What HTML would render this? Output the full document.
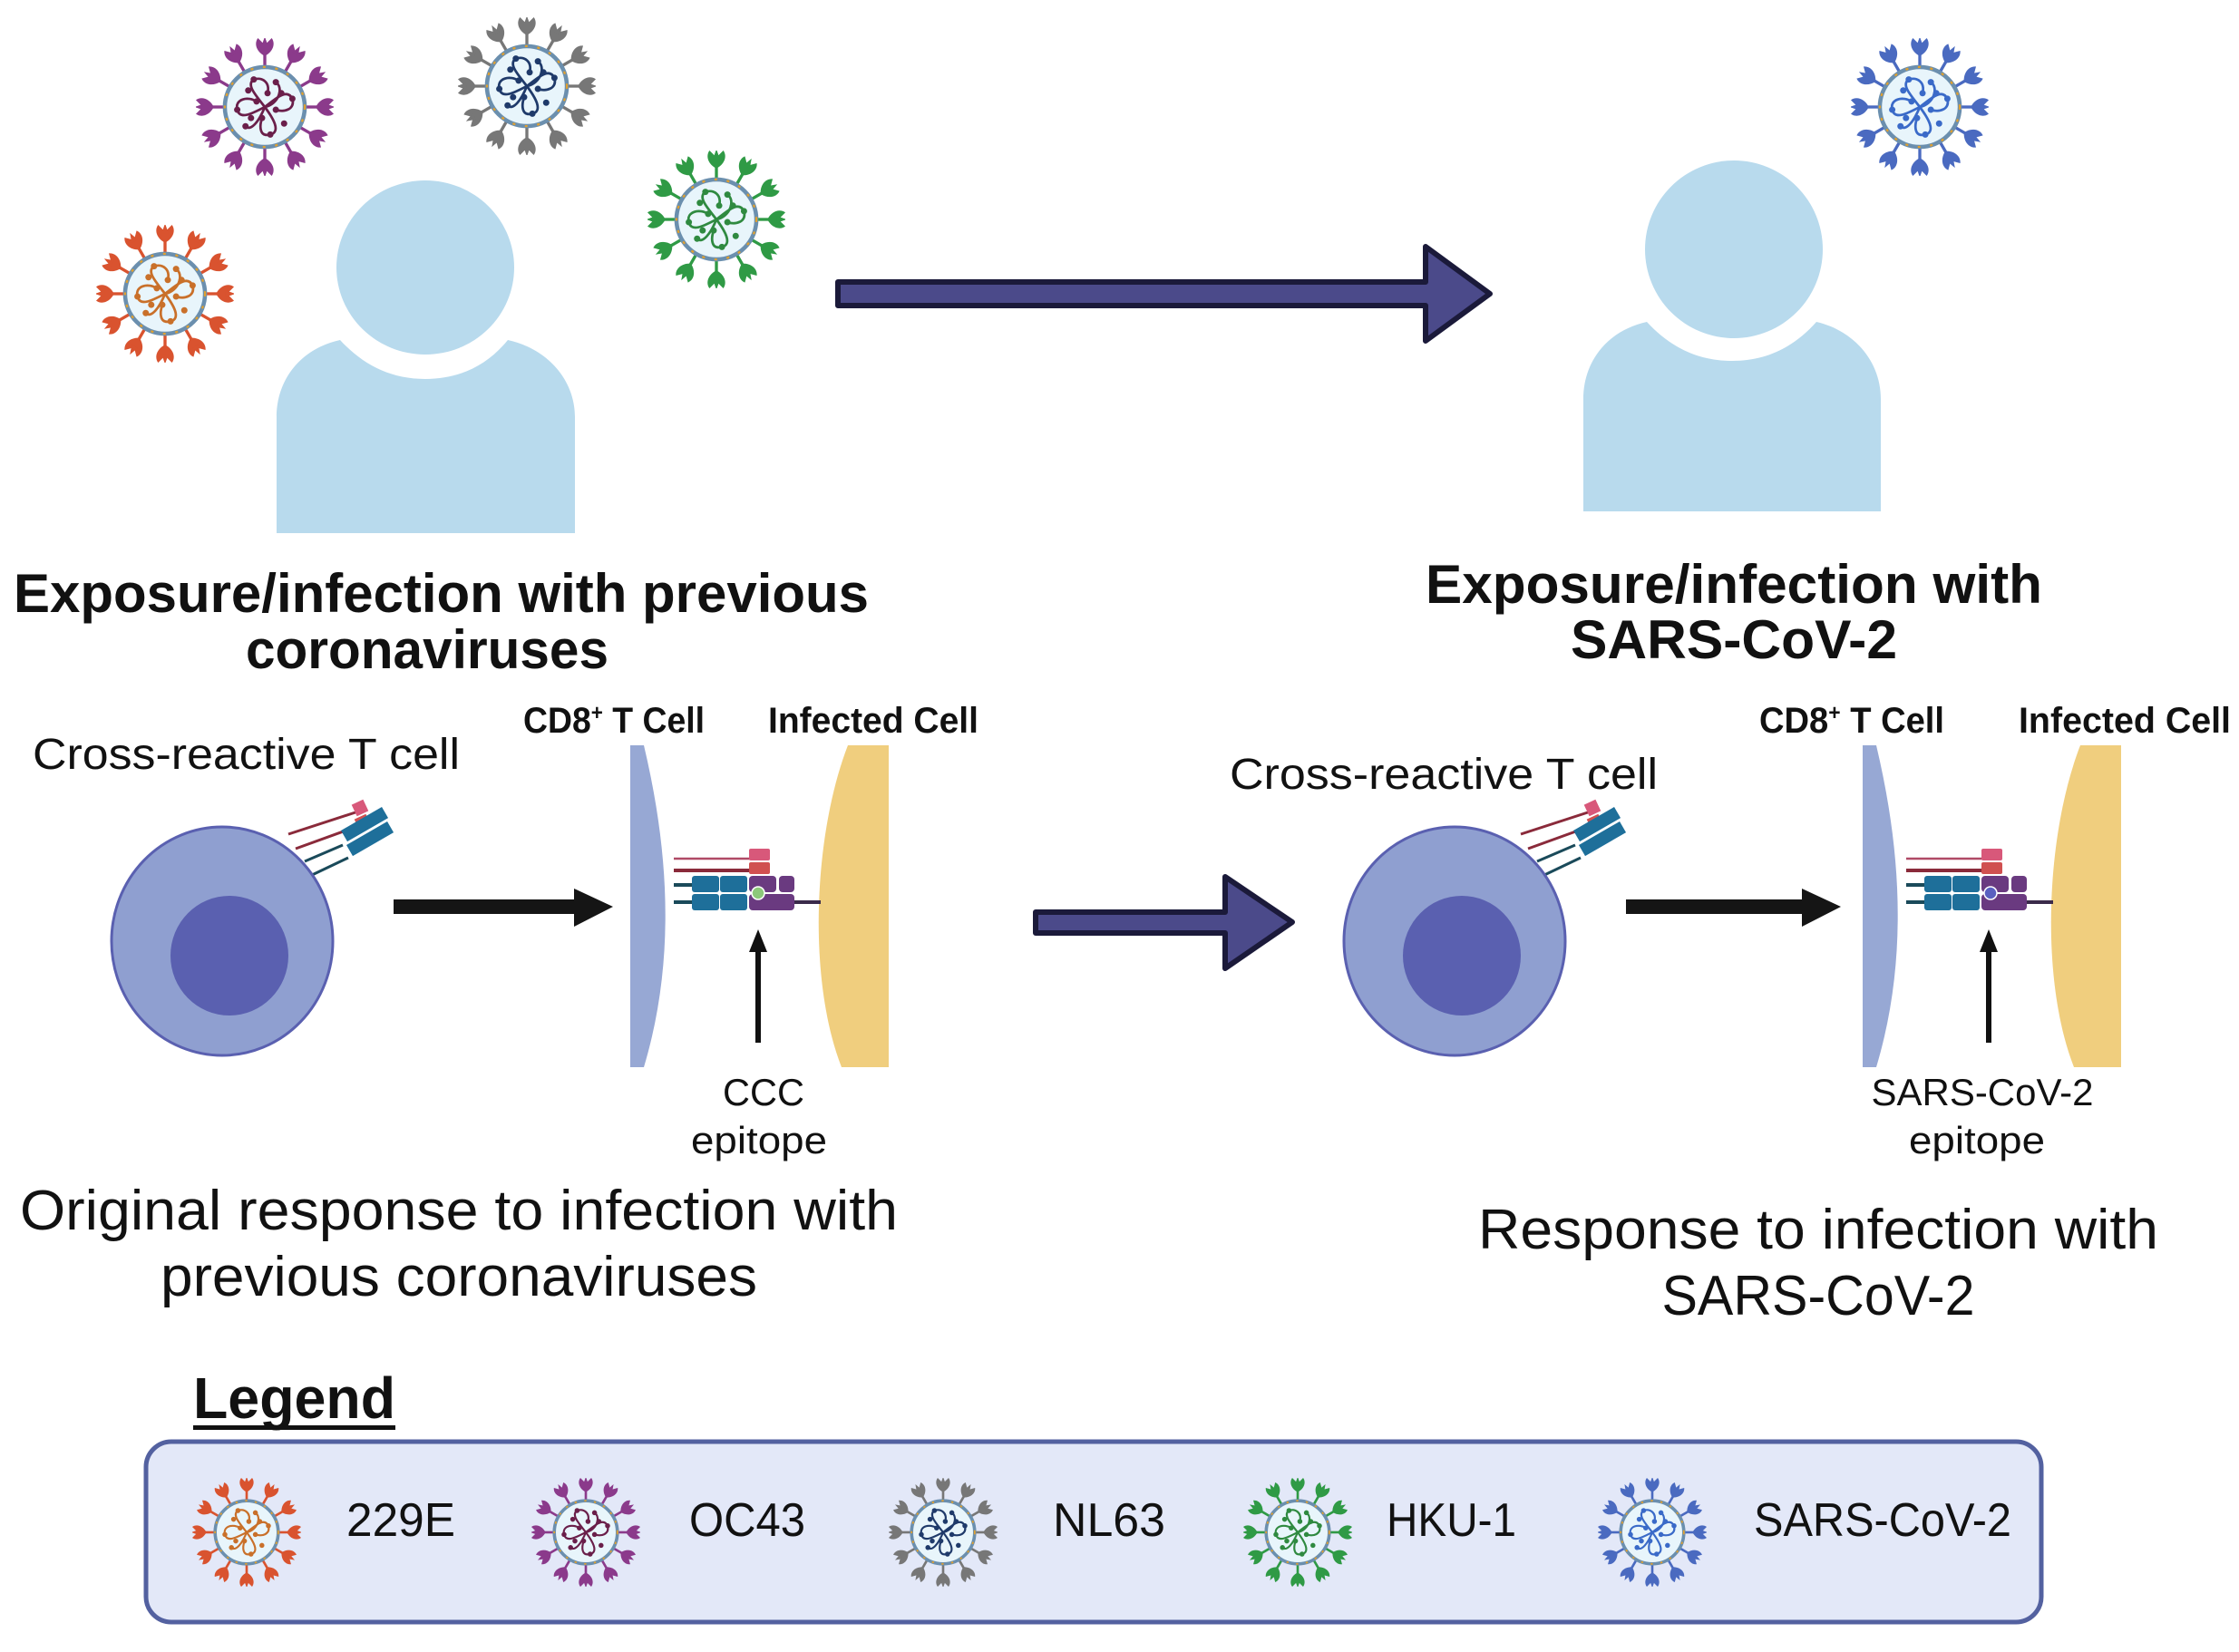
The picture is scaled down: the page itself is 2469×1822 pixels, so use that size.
<!DOCTYPE html>
<html><head><meta charset="utf-8"><style>
html,body{margin:0;padding:0;background:#fff;}
svg{display:block;}
text{font-family:"Liberation Sans Narrow","Liberation Sans",sans-serif;fill:#111;}
.b{font-weight:bold;}
</style></head><body>
<svg width="2469" height="1822" viewBox="0 0 2469 1822" xmlns="http://www.w3.org/2000/svg">
<defs>
<g id="spk">
  <line x1="0" y1="-30" x2="0" y2="-40" stroke="var(--c1)" stroke-width="2.2"/>
  <path d="M0,-37 C-6,-40 -8,-46 -5,-50 L0,-45 L5,-50 C8,-46 6,-40 0,-37Z" fill="var(--c1)"/>
  <path d="M-2.5,-44 L0,-51 L2.5,-44Z" fill="var(--c1)"/>
</g>
<symbol id="vir" viewBox="-50 -50 100 100">
  <use href="#spk"/><use href="#spk" transform="rotate(30)"/><use href="#spk" transform="rotate(60)"/>
  <use href="#spk" transform="rotate(90)"/><use href="#spk" transform="rotate(120)"/><use href="#spk" transform="rotate(150)"/>
  <use href="#spk" transform="rotate(180)"/><use href="#spk" transform="rotate(210)"/><use href="#spk" transform="rotate(240)"/>
  <use href="#spk" transform="rotate(270)"/><use href="#spk" transform="rotate(300)"/><use href="#spk" transform="rotate(330)"/>
  <circle r="29" fill="#e8f5fb" stroke="#6b8fae" stroke-width="3"/>
  <circle r="29" fill="none" stroke="#e0a030" stroke-width="1.5" stroke-dasharray="2 7"/>
  <g fill="none" stroke="var(--c2)" stroke-width="1.8">
    <path d="M0,0 C-6,-8 -14,-16 -8,-20 C-2,-22 4,-18 2,-10"/>
    <path d="M0,0 C8,-6 16,-14 20,-6 C22,2 14,4 8,2"/>
    <path d="M0,0 C6,8 12,18 4,20 C-4,22 -4,14 -2,8"/>
    <path d="M0,0 C-8,4 -18,10 -20,2 C-22,-6 -12,-8 -6,-4"/>
    <path d="M0,0 C-4,10 -10,18 -14,14"/>
    <path d="M0,0 C10,-2 14,-14 8,-18"/>
  </g>
  <g fill="var(--c2)">
    <circle cx="-8" cy="-20" r="2.3"/><circle cx="2" cy="-10" r="2.3"/><circle cx="20" cy="-6" r="2.3"/>
    <circle cx="8" cy="2" r="2.3"/><circle cx="4" cy="20" r="2.3"/><circle cx="-2" cy="8" r="2.3"/>
    <circle cx="-20" cy="2" r="2.3"/><circle cx="-6" cy="-4" r="2.3"/><circle cx="-14" cy="14" r="2.3"/>
    <circle cx="8" cy="-18" r="2.3"/><circle cx="-12" cy="-12" r="2.3"/><circle cx="14" cy="12" r="2.3"/>
    <circle cx="12" cy="-10" r="2.3"/><circle cx="-10" cy="8" r="2.3"/>
  </g>
</symbol>
</defs>

<!-- viruses top -->
<use href="#vir" x="216" y="42" width="152" height="152" style="--c1:#8b3a8b;--c2:#6a1f4a"/>
<use href="#vir" x="505" y="19" width="152" height="152" style="--c1:#777;--c2:#1f3a6a"/>
<use href="#vir" x="714" y="166" width="152" height="152" style="--c1:#2f9a45;--c2:#2f8a40"/>
<use href="#vir" x="106" y="248" width="152" height="152" style="--c1:#d9532f;--c2:#c9702a"/>
<use href="#vir" x="2041" y="42" width="152" height="152" style="--c1:#4a6ac0;--c2:#3a6ac8"/>

<!-- persons -->
<g fill="#b8daed">
  <ellipse cx="469" cy="295" rx="98" ry="96"/>
  <path d="M305,588 L305,460 C305,420 330,385 375,375 C400,402 430,418 469,418 C508,418 538,402 560,375 C605,385 634,420 634,460 L634,588Z"/>
  <ellipse cx="1912" cy="275" rx="98" ry="98"/>
  <path d="M1746,564 L1746,440 C1746,400 1771,365 1816,355 C1841,382 1871,398 1910,398 C1949,398 1979,382 2003,355 C2046,365 2074,400 2074,440 L2074,564Z"/>
</g>

<!-- big top arrow -->
<path d="M924,311 L1572,311 L1572,272 L1643,324 L1572,376 L1572,337 L924,337Z" fill="#4b4a8a" stroke="#1b1a3a" stroke-width="6" stroke-linejoin="round"/>

<!-- titles -->
<text class="b" x="15" y="675" font-size="60" textLength="943" lengthAdjust="spacingAndGlyphs">Exposure/infection with previous</text>
<text class="b" x="471" y="737" font-size="60" text-anchor="middle" textLength="400" lengthAdjust="spacingAndGlyphs">coronaviruses</text>
<text class="b" x="1912" y="665" font-size="60" text-anchor="middle" textLength="680" lengthAdjust="spacingAndGlyphs">Exposure/infection with</text>
<text class="b" x="1912" y="726" font-size="60" text-anchor="middle" textLength="360" lengthAdjust="spacingAndGlyphs">SARS-CoV-2</text>

<!-- Cross-reactive labels -->
<text x="36" y="848" font-size="48" textLength="471" lengthAdjust="spacingAndGlyphs">Cross-reactive T cell</text>
<text x="1356" y="870" font-size="48" textLength="472" lengthAdjust="spacingAndGlyphs">Cross-reactive T cell</text>

<!-- T cells -->
<g id="tc1">
  <line x1="318" y1="920" x2="395" y2="895" stroke="#8a2a3a" stroke-width="3"/>
  <line x1="326" y1="936" x2="398" y2="910" stroke="#8a2a3a" stroke-width="3"/>
  <rect x="390" y="884" width="14" height="14" fill="#d8587a" transform="rotate(-25 397 891)"/>
  <rect x="393" y="900" width="14" height="14" fill="#d05050" transform="rotate(-25 400 907)"/>
  <line x1="336" y1="950" x2="378" y2="932" stroke="#1a4a5a" stroke-width="3"/>
  <line x1="342" y1="966" x2="384" y2="946" stroke="#1a4a5a" stroke-width="3"/>
  <rect x="376" y="916" width="52" height="14" fill="#1e6f9a" transform="rotate(-30 376 916)"/>
  <rect x="382" y="932" width="52" height="14" fill="#1e6f9a" transform="rotate(-30 382 932)"/>
  <ellipse cx="245" cy="1038" rx="122" ry="126" fill="#8f9fd0" stroke="#5a60b0" stroke-width="3"/>
  <ellipse cx="253" cy="1054" rx="65" ry="66" fill="#5a60b0"/>
</g>
<use href="#tc1" x="1359" y="0"/>

<!-- black arrows -->
<path d="M434,992 L633,992 L633,980 L676,1000 L633,1022 L633,1008 L434,1008Z" fill="#151515"/>
<path d="M1793,992 L1987,992 L1987,980 L2030,1000 L1987,1022 L1987,1008 L1793,1008Z" fill="#151515"/>

<!-- mid big arrow -->
<path d="M1142,1006 L1351,1006 L1351,967 L1425,1017 L1351,1068 L1351,1029 L1142,1029Z" fill="#4b4a8a" stroke="#1b1a3a" stroke-width="6" stroke-linejoin="round"/>

<!-- synapse panels -->
<g id="syn">
  <path d="M695,822 L710,822 C738,940 745,1060 710,1177 L695,1177Z" fill="#97a8d4"/>
  <path d="M980,822 L935,822 C897,920 890,1080 928,1177 L980,1177Z" fill="#f0ce7e"/>
  <line x1="743" y1="947" x2="828" y2="947" stroke="#b04a66" stroke-width="2.5"/>
  <line x1="743" y1="960" x2="828" y2="960" stroke="#8a2a3a" stroke-width="4"/>
  <rect x="826" y="936" width="23" height="13" rx="2" fill="#d8587a"/>
  <rect x="826" y="951" width="23" height="13" rx="2" fill="#d05050"/>
  <line x1="743" y1="976" x2="763" y2="976" stroke="#1a4a5a" stroke-width="4"/>
  <line x1="743" y1="995" x2="763" y2="995" stroke="#1a4a5a" stroke-width="4"/>
  <rect x="763" y="966" width="30" height="18" rx="3" fill="#1e6f9a"/>
  <rect x="794" y="966" width="30" height="18" rx="3" fill="#1e6f9a"/>
  <rect x="763" y="986" width="30" height="18" rx="3" fill="#1e6f9a"/>
  <rect x="794" y="986" width="30" height="18" rx="3" fill="#1e6f9a"/>
  <rect x="826" y="966" width="30" height="18" rx="4" fill="#6a3a80"/>
  <rect x="859" y="966" width="17" height="18" rx="4" fill="#6a3a80"/>
  <rect x="826" y="986" width="50" height="18" rx="4" fill="#6a3a80"/>
  <line x1="876" y1="995" x2="905" y2="995" stroke="#3a2a4a" stroke-width="4"/>
</g>
<circle cx="836" cy="985" r="7" fill="#8cc87a" stroke="#fff" stroke-width="1.5"/>
<use href="#syn" x="1359" y="0"/>
<circle cx="2195" cy="985" r="7" fill="#5a60c0" stroke="#fff" stroke-width="1.5"/>

<!-- epitope arrows -->
<path d="M833,1150 L833,1050 L826,1050 L836,1025 L846,1050 L839,1050 L839,1150Z" fill="#111"/>
<path d="M2190,1150 L2190,1050 L2183,1050 L2193,1025 L2203,1050 L2196,1050 L2196,1150Z" fill="#111"/>

<!-- CD8 labels -->
<text class="b" x="577" y="808" font-size="40" textLength="200" lengthAdjust="spacingAndGlyphs">CD8<tspan font-size="24" dy="-14">+</tspan><tspan dy="14"> T Cell</tspan></text>
<text class="b" x="847" y="808" font-size="40" textLength="232" lengthAdjust="spacingAndGlyphs">Infected Cell</text>
<text class="b" x="1940" y="808" font-size="40" textLength="204" lengthAdjust="spacingAndGlyphs">CD8<tspan font-size="24" dy="-14">+</tspan><tspan dy="14"> T Cell</tspan></text>
<text class="b" x="2226" y="808" font-size="40" textLength="234" lengthAdjust="spacingAndGlyphs">Infected Cell</text>

<text x="842" y="1219" font-size="42" text-anchor="middle" textLength="90" lengthAdjust="spacingAndGlyphs">CCC</text>
<text x="837" y="1272" font-size="42" text-anchor="middle" textLength="150" lengthAdjust="spacingAndGlyphs">epitope</text>
<text x="2186" y="1219" font-size="42" text-anchor="middle" textLength="245" lengthAdjust="spacingAndGlyphs">SARS-CoV-2</text>
<text x="2180" y="1272" font-size="42" text-anchor="middle" textLength="150" lengthAdjust="spacingAndGlyphs">epitope</text>

<!-- response texts -->
<text x="22" y="1356" font-size="62" textLength="968" lengthAdjust="spacingAndGlyphs">Original response to infection with</text>
<text x="506" y="1429" font-size="62" text-anchor="middle" textLength="658" lengthAdjust="spacingAndGlyphs">previous coronaviruses</text>
<text x="2005" y="1377" font-size="62" text-anchor="middle" textLength="750" lengthAdjust="spacingAndGlyphs">Response to infection with</text>
<text x="2005" y="1450" font-size="62" text-anchor="middle" textLength="345" lengthAdjust="spacingAndGlyphs">SARS-CoV-2</text>

<!-- legend -->
<text class="b" x="213" y="1564" font-size="64" textLength="223" lengthAdjust="spacingAndGlyphs">Legend</text>
<rect x="213" y="1572" width="223" height="5" fill="#111"/>
<rect x="161" y="1590" width="2090" height="199" rx="28" fill="#e3e8f8" stroke="#5361a0" stroke-width="5"/>
<use href="#vir" x="212" y="1630" width="120" height="120" style="--c1:#d9532f;--c2:#c9702a"/>
<use href="#vir" x="586" y="1630" width="120" height="120" style="--c1:#8b3a8b;--c2:#6a1f4a"/>
<use href="#vir" x="980" y="1630" width="120" height="120" style="--c1:#777;--c2:#1f3a6a"/>
<use href="#vir" x="1371" y="1630" width="120" height="120" style="--c1:#2f9a45;--c2:#2f8a40"/>
<use href="#vir" x="1762" y="1630" width="120" height="120" style="--c1:#4a6ac0;--c2:#3a6ac8"/>
<text x="382" y="1694" font-size="52" textLength="120" lengthAdjust="spacingAndGlyphs">229E</text>
<text x="760" y="1694" font-size="52" textLength="128" lengthAdjust="spacingAndGlyphs">OC43</text>
<text x="1161" y="1694" font-size="52" textLength="124" lengthAdjust="spacingAndGlyphs">NL63</text>
<text x="1529" y="1694" font-size="52" textLength="143" lengthAdjust="spacingAndGlyphs">HKU-1</text>
<text x="1934" y="1694" font-size="52" textLength="284" lengthAdjust="spacingAndGlyphs">SARS-CoV-2</text>
</svg>
</body></html>
